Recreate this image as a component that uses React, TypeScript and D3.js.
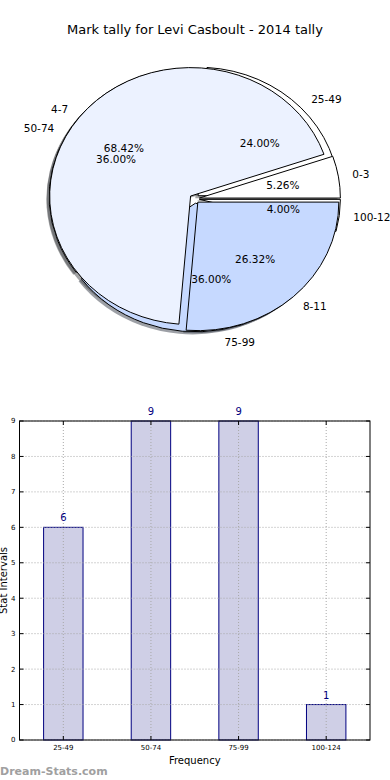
import * as d3 from 'd3';
import * as React from 'react';

const W = 390;
const H = 780;

// pie 1: marks
const markLabels = ['0-3', '4-7', '8-11'];
const markCounts = [1, 13, 5];
// pie 2 / bars: stat intervals
const statLabels = ['25-49', '50-74', '75-99', '100-124'];
const statCounts = [6, 9, 9, 1];
const yTicks = [0, 1, 2, 3, 4, 5, 6, 7, 8, 9];

const wedgeColors = ['#ffffff', '#ecf2ff', '#c6d9ff'];
const font = 'DejaVu Sans, sans-serif';

const pie = { cx: 194.5, cy: 198.8, rx: 141, ry: 128.5, explode: 0.035 };
const bar = { left: 19.5, right: 370, top: 421, bottom: 740 };

type Slice = d3.PieArcDatum<number> & { label: string; color: string };

function slices(labels: string[], counts: number[]): Slice[] {
  const gen = d3
    .pie<number>()
    .sort(null)
    .startAngle(Math.PI / 2)
    .endAngle(Math.PI / 2 - 2 * Math.PI);
  return gen(counts).map((d, i) => ({
    ...d,
    label: labels[i],
    color: wedgeColors[i % wedgeColors.length],
  }));
}

const shade = (c: string) => {
  const r = d3.rgb(c);
  return d3.rgb(r.r * 0.3, r.g * 0.3, r.b * 0.3).toString();
};

const PieLayer = ({ data, part }: { data: Slice[]; part: 'shadow' | 'wedge' }) => {
  const arc = d3.arc<Slice>().innerRadius(0).outerRadius(1);
  const e = pie.explode;
  return (
    <g transform={`translate(${pie.cx},${pie.cy}) scale(${pie.rx},${pie.ry})`}>
      {data.map((d, i) => {
        const m = (d.startAngle + d.endAngle) / 2;
        let tx = e * Math.sin(m);
        let ty = -e * Math.cos(m);
        if (part === 'shadow') {
          tx -= 0.02;
          ty += 0.02;
        }
        return (
          <path
            key={i}
            d={arc(d) || ''}
            transform={`translate(${tx},${ty})`}
            fill={part === 'shadow' ? shade(d.color) : d.color}
            fillOpacity={part === 'shadow' ? 0.5 : 1}
            stroke={part === 'shadow' ? 'none' : '#000'}
            strokeWidth={1}
            vectorEffect="non-scaling-stroke"
            strokeLinejoin="miter"
          />
        );
      })}
    </g>
  );
};

const PieText = ({ data }: { data: Slice[] }) => {
  const total = d3.sum(data, d => d.value);
  const e = pie.explode;
  return (
    <g fontFamily={font} fontSize={10.5} fill="#000">
      {data.map((d, i) => {
        const m = (d.startAngle + d.endAngle) / 2;
        const lx = pie.cx + (1.1 + e) * pie.rx * Math.sin(m);
        const ly = pie.cy - (1.1 + e) * pie.ry * Math.cos(m);
        const px = pie.cx + (0.6 + e) * pie.rx * Math.sin(m);
        const py = pie.cy - (0.6 + e) * pie.ry * Math.cos(m);
        return (
          <g key={i}>
            <text
              x={lx}
              y={ly}
              dy="0.35em"
              textAnchor={Math.sin(m) > 0 ? 'start' : 'end'}
            >
              {d.label}
            </text>
            <text x={px} y={py} dy="0.35em" textAnchor="middle">
              {((d.value / total) * 100).toFixed(2)}%
            </text>
          </g>
        );
      })}
    </g>
  );
};

const BarChart = () => {
  const x = d3.scaleLinear().domain([-0.5, 3.5]).range([bar.left, bar.right]);
  const y = d3.scaleLinear().domain([0, 9]).range([bar.bottom, bar.top]);
  const bw = x(0.45) - x(0);
  const grid = { stroke: '#a8a8a8', strokeWidth: 1, strokeDasharray: '1,2' };
  return (
    <g fontFamily={font}>
      {statCounts.map((v, i) => (
        <rect
          key={'b' + i}
          x={x(i) - bw / 2}
          y={y(v)}
          width={bw}
          height={y(0) - y(v)}
          fill="#cfcfe6"
          stroke="#000080"
          strokeWidth={1}
        />
      ))}
      {yTicks.map(t => (
        <line key={'gy' + t} x1={bar.left} x2={bar.right} y1={y(t)} y2={y(t)} {...grid} />
      ))}
      {statLabels.map((_, i) => (
        <line key={'gx' + i} x1={x(i)} x2={x(i)} y1={bar.top} y2={bar.bottom} {...grid} />
      ))}
      {statCounts.map((v, i) => (
        <text
          key={'v' + i}
          x={x(i)}
          y={y(v) - 6}
          textAnchor="middle"
          fontSize={10}
          fill="#000080"
        >
          {v}
        </text>
      ))}
      <rect
        x={bar.left}
        y={bar.top}
        width={bar.right - bar.left}
        height={bar.bottom - bar.top}
        fill="none"
        stroke="#000"
        strokeWidth={1}
      />
      {yTicks.map(t => (
        <g key={'ty' + t}>
          <line x1={bar.left} x2={bar.left + 4} y1={y(t)} y2={y(t)} stroke="#000" />
          <line x1={bar.right} x2={bar.right - 4} y1={y(t)} y2={y(t)} stroke="#000" />
          <text x={bar.left - 4} y={y(t)} dy="0.35em" textAnchor="end" fontSize={7}>
            {t}
          </text>
        </g>
      ))}
      {statLabels.map((s, i) => (
        <g key={'tx' + i}>
          <line x1={x(i)} x2={x(i)} y1={bar.bottom} y2={bar.bottom - 4} stroke="#000" />
          <line x1={x(i)} x2={x(i)} y1={bar.top} y2={bar.top + 4} stroke="#000" />
          <text x={x(i)} y={bar.bottom + 10} textAnchor="middle" fontSize={7}>
            {s}
          </text>
        </g>
      ))}
      <text x={(bar.left + bar.right) / 2} y={764} textAnchor="middle" fontSize={10}>
        Frequency
      </text>
      <text
        transform={`translate(7,${(bar.top + bar.bottom) / 2}) rotate(-90)`}
        textAnchor="middle"
        fontSize={10}
      >
        Stat Intervals
      </text>
      <text x={0} y={775} fontSize={11} fontWeight="bold" fill="#a0a0a0">
        Dream-Stats.com
      </text>
    </g>
  );
};

export default function App() {
  const marks = slices(markLabels, markCounts);
  const stats = slices(statLabels, statCounts);
  return (
    <svg
      width={W}
      height={H}
      style={{ position: 'absolute', left: 0, top: 0, background: '#fff' }}
    >
      <rect width={W} height={H} fill="#fff" />
      <text x={195} y={34} textAnchor="middle" fontFamily={font} fontSize={13}>
        Mark tally for Levi Casboult - 2014 tally
      </text>
      <PieLayer data={stats} part="shadow" />
      <PieLayer data={marks} part="shadow" />
      <PieLayer data={stats} part="wedge" />
      <PieLayer data={marks} part="wedge" />
      <PieText data={stats} />
      <PieText data={marks} />
      <BarChart />
    </svg>
  );
}
